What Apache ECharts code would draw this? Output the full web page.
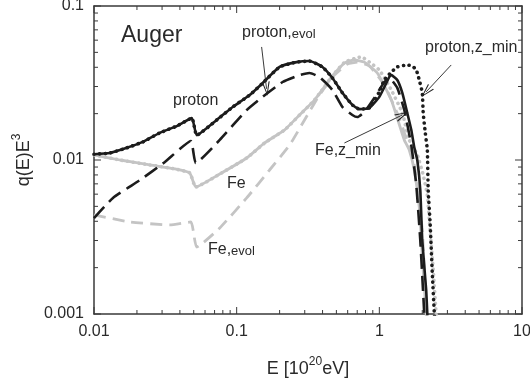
<!DOCTYPE html>
<html>
<head>
<meta charset="utf-8">
<script src="https://cdn.jsdelivr.net/npm/echarts@6/dist/echarts.min.js"></script>
<style>
  html, body { margin: 0; padding: 0; background: #fff; }
  #chart { width: 530px; height: 385px; }
</style>
</head>
<body>
<div id="chart"></div>
<script>
// Energy (10^20 eV) and q(E)E^3 for each model curve
const protonE = [0.01, 0.0129, 0.0170, 0.0220, 0.0289, 0.0380, 0.0485, 0.0525, 0.0725, 0.0938, 0.1233, 0.150, 0.200, 0.263, 0.324, 0.399, 0.469, 0.551, 0.647, 0.725, 0.851, 1.00, 1.175, 1.213, 1.336, 1.449, 1.570, 1.674, 1.757, 1.845, 1.936, 2.00, 2.13, 2.17, 2.22];
const protonQ = [0.0109, 0.0111, 0.0120, 0.0131, 0.0150, 0.0166, 0.0187, 0.0145, 0.0182, 0.0221, 0.0264, 0.0312, 0.0402, 0.0432, 0.0439, 0.0402, 0.0341, 0.0273, 0.0228, 0.0214, 0.0218, 0.0257, 0.0346, 0.0356, 0.0331, 0.0273, 0.0202, 0.0157, 0.0121, 0.0100, 0.0064, 0.0030, 0.00143, 0.0010, 0.0007];

const protonZminE = [0.01, 0.0129, 0.0170, 0.0220, 0.0289, 0.0380, 0.0485, 0.0525, 0.0725, 0.0938, 0.1233, 0.150, 0.200, 0.263, 0.324, 0.399, 0.469, 0.551, 0.647, 0.725, 0.851, 1.00, 1.084, 1.213, 1.336, 1.57, 1.70, 1.815, 1.905, 2.00, 2.03, 2.10, 2.17, 2.20, 2.27, 2.35, 2.43, 2.48];
const protonZminQ = [0.0109, 0.0111, 0.0120, 0.0131, 0.0150, 0.0166, 0.0187, 0.0145, 0.0182, 0.0221, 0.0264, 0.0312, 0.0402, 0.0432, 0.0439, 0.0402, 0.0341, 0.0273, 0.0228, 0.0214, 0.0218, 0.0277, 0.0331, 0.0372, 0.0402, 0.0414, 0.0408, 0.0384, 0.0331, 0.0273, 0.0202, 0.0150, 0.0116, 0.0064, 0.0039, 0.00185, 0.0010, 0.0007];

const protonEvolE = [0.01, 0.01358, 0.0210, 0.0314, 0.0477, 0.0517, 0.0761, 0.1175, 0.152, 0.210, 0.276, 0.324, 0.380, 0.469, 0.551, 0.647, 0.702, 0.785, 0.922, 1.084, 1.175, 1.336, 1.496, 1.674, 1.815, 1.936, 2.065, 2.10];
const protonEvolQ = [0.0042, 0.00567, 0.00741, 0.00971, 0.0133, 0.00957, 0.0135, 0.0211, 0.0257, 0.0321, 0.0356, 0.0367, 0.0346, 0.0285, 0.0221, 0.0196, 0.0190, 0.0205, 0.0253, 0.0321, 0.0341, 0.0294, 0.0211, 0.0125, 0.00689, 0.00303, 0.0010, 0.0007];

const feE = [0.01, 0.0152, 0.0246, 0.0368, 0.0469, 0.0517, 0.0761, 0.1175, 0.157, 0.217, 0.276, 0.351, 0.410, 0.462, 0.569, 0.668, 0.785, 0.968, 1.213, 1.496, 1.621, 1.757, 1.905, 2.00, 2.13, 2.17];
const feQ = [0.0108, 0.0100, 0.00929, 0.00875, 0.00824, 0.00668, 0.00811, 0.0103, 0.0129, 0.0157, 0.0196, 0.0245, 0.0296, 0.0346, 0.0426, 0.0446, 0.0432, 0.0367, 0.0245, 0.0135, 0.0116, 0.00861, 0.00495, 0.00235, 0.0010, 0.0007];

const feZminE = [0.01, 0.0152, 0.0246, 0.0368, 0.0469, 0.0517, 0.0761, 0.1175, 0.157, 0.217, 0.276, 0.351, 0.410, 0.462, 0.569, 0.668, 0.748, 0.851, 1.00, 1.213, 1.449, 1.621, 1.845, 2.03, 2.17, 2.27, 2.39, 2.50, 2.55];
const feZminQ = [0.0108, 0.0100, 0.00929, 0.00875, 0.00824, 0.00668, 0.00811, 0.0103, 0.0129, 0.0157, 0.0196, 0.0245, 0.0296, 0.0346, 0.0430, 0.0455, 0.0467, 0.0432, 0.0384, 0.0285, 0.0202, 0.0135, 0.0108, 0.0080, 0.0059, 0.0035, 0.0019, 0.0010, 0.0007];

const feEvolE = [0.01, 0.01786, 0.034, 0.0477, 0.0525, 0.0761, 0.1175, 0.170, 0.235, 0.299, 0.380, 0.484, 0.597, 0.702, 0.851, 1.084, 1.380, 1.757, 2.00, 2.13, 2.17];
const feEvolQ = [0.0044, 0.00396, 0.00379, 0.00396, 0.00272, 0.00362, 0.00567, 0.00861, 0.0125, 0.0182, 0.0264, 0.0356, 0.0420, 0.0432, 0.0408, 0.0307, 0.0187, 0.00929, 0.00351, 0.0010, 0.0007];

// Axis tick labels
const xTickValues = [0.01, 0.1, 1, 10];
const xTickLabels = ['0.01', '0.1', '1', '10'];
const yTickValues = [0.001, 0.01, 0.1];
const yTickLabels = ['0.001', '0.01', '0.1'];
const mantissas = [1, 2, 3, 4, 5, 6, 7, 8, 9];

// Annotation arrows: [fromE, fromQ, toE, toQ]
const arrowProtonEvol = [0.1496, 0.0542, 0.162, 0.0290];
const arrowProtonZmin = [3.19, 0.0414, 2.13, 0.0277];
const arrowFeZmin = [0.569, 0.0129, 1.449, 0.0196];

const X_MIN = 0.01, X_MAX = 10, Y_MIN = 0.001, Y_MAX = 0.1;

const BLACK = '#1c1c1c';
const GRAY = '#c4c4c4';
const AXIS = '#3a3a3a';
const TEXT = '#2a2a2a';
const FONT = 'Liberation Sans, Arial, sans-serif';

function pairs(xs, ys) { return xs.map((x, i) => [x, ys[i]]); }

// every 1..9 multiple of each decade; the flag marks decade ticks
function logTicks(decades) {
  const out = [];
  for (let i = 0; i < decades.length - 1; i++) {
    mantissas.forEach(m => out.push([+(decades[i] * m).toPrecision(3), m === 1 ? 1 : 0]));
  }
  out.push([decades[decades.length - 1], 1]);
  return out;
}

function labelFor(values, labels) {
  return function (v) {
    for (let i = 0; i < values.length; i++) {
      if (Math.abs(Math.log10(v) - Math.log10(values[i])) < 1e-6) return labels[i];
    }
    return '';
  };
}

function arrowLine(a) {
  return [{ coord: [a[0], a[1]], symbol: 'none' }, { coord: [a[2], a[3]] }];
}

const chevron = 'path://M0,14 L4,0 L8,14 L6.8,14 L4,3.2 L1.2,14 Z';

const lineBase = { type: 'line', showSymbol: false, symbol: 'none', smooth: 0.15, silent: true };

function logAxis(extra) {
  return Object.assign({
    type: 'log',
    axisLine: { show: true, lineStyle: { color: AXIS, width: 1.5 } },
    axisTick: { show: false },
    minorTick: { show: false },
    splitLine: { show: false }
  }, extra);
}

const titleRich = {
  t: { fontSize: 18, color: TEXT, fontFamily: FONT, verticalAlign: 'bottom', lineHeight: 22 },
  s: { fontSize: 12, color: TEXT, fontFamily: FONT, verticalAlign: 'top', lineHeight: 22, padding: [0, 0, 9, 0] }
};

// inward tick marks on all four sides of the frame, placed through the axis scales
function tickSeries(ticks, horizontal) {
  return {
    type: 'custom', silent: true, clip: false, z: 5,
    data: ticks,
    renderItem: function (params, api) {
      const v = api.value(0);
      const len = api.value(1) ? 7 : 4;
      const style = { stroke: AXIS, lineWidth: 1 };
      if (horizontal) {
        const b = api.coord([v, Y_MIN]);
        const t = api.coord([v, Y_MAX]);
        return { type: 'group', children: [
          { type: 'line', shape: { x1: b[0], y1: b[1], x2: b[0], y2: b[1] - len }, style: style },
          { type: 'line', shape: { x1: t[0], y1: t[1], x2: t[0], y2: t[1] + len }, style: style }
        ] };
      }
      const l = api.coord([X_MIN, v]);
      const r = api.coord([X_MAX, v]);
      return { type: 'group', children: [
        { type: 'line', shape: { x1: l[0], y1: l[1], x2: l[0] + len, y2: l[1] }, style: style },
        { type: 'line', shape: { x1: r[0], y1: r[1], x2: r[0] - len, y2: r[1] }, style: style }
      ] };
    }
  };
}

const chart = echarts.init(document.getElementById('chart'));

chart.setOption({
  animation: false,
  grid: { left: 94, right: 8, top: 6, bottom: 71, containLabel: false, outerBoundsMode: 'none' },
  xAxis: [
    logAxis({
      position: 'bottom', min: X_MIN, max: X_MAX,
      axisLabel: { show: true, color: TEXT, fontSize: 16, fontFamily: FONT, margin: 10, formatter: labelFor(xTickValues, xTickLabels) },
      name: '{t|E [10}{s|20}{t|eV]}',
      nameLocation: 'middle', nameGap: 42,
      nameTextStyle: { rich: titleRich }
    }),
    logAxis({ position: 'top', min: X_MIN, max: X_MAX, axisLabel: { show: false } })
  ],
  yAxis: [
    logAxis({
      position: 'left', min: Y_MIN, max: Y_MAX,
      axisLabel: { show: true, color: TEXT, fontSize: 16, fontFamily: FONT, margin: 10, formatter: labelFor(yTickValues, yTickLabels) },
      name: '{t|q(E)E}{s|3}',
      nameLocation: 'middle', nameGap: 58, nameRotate: 90,
      nameTextStyle: { rich: titleRich }
    }),
    logAxis({ position: 'right', min: Y_MIN, max: Y_MAX, axisLabel: { show: false } })
  ],
  series: [
    tickSeries(logTicks(xTickValues), true),
    tickSeries(logTicks(yTickValues), false),
    Object.assign({}, lineBase, {
      name: 'Fe,evol', data: pairs(feEvolE, feEvolQ),
      lineStyle: { color: GRAY, width: 2.8, type: [12, 7] }
    }),
    Object.assign({}, lineBase, {
      name: 'Fe', data: pairs(feE, feQ),
      lineStyle: { color: GRAY, width: 2.8 }
    }),
    Object.assign({}, lineBase, {
      name: 'Fe,z_min', data: pairs(feZminE, feZminQ),
      lineStyle: { color: GRAY, width: 3.6, type: [0.1, 5.6], cap: 'round' }
    }),
    Object.assign({}, lineBase, {
      name: 'proton,evol', data: pairs(protonEvolE, protonEvolQ),
      lineStyle: { color: BLACK, width: 2.6, type: [15, 7] }
    }),
    Object.assign({}, lineBase, {
      name: 'proton', data: pairs(protonE, protonQ),
      lineStyle: { color: BLACK, width: 2.6 }
    }),
    Object.assign({}, lineBase, {
      name: 'proton,z_min', data: pairs(protonZminE, protonZminQ),
      lineStyle: { color: BLACK, width: 3.6, type: [0.1, 5.6], cap: 'round' },
      markLine: {
        silent: true, animation: false,
        symbol: ['none', chevron], symbolSize: [8, 14],
        label: { show: false },
        lineStyle: { color: '#222', width: 0.9, type: 'solid' },
        data: [arrowLine(arrowProtonEvol), arrowLine(arrowProtonZmin), arrowLine(arrowFeZmin)]
      }
    })
  ],
  graphic: [
    { type: 'text', left: 121, top: 24, silent: true, style: { text: 'Auger', font: '23px ' + FONT, fill: TEXT } },
    { type: 'text', left: 173, top: 93, silent: true, style: { text: 'proton', font: '16px ' + FONT, fill: TEXT } },
    { type: 'text', left: 242, top: 25, silent: true, style: { text: '{a|proton,}{b|evol}', rich: { a: { font: '16px ' + FONT, fill: TEXT }, b: { font: '13px ' + FONT, fill: TEXT, padding: [3, 0, 0, 0] } } } },
    { type: 'text', left: 425, top: 40, silent: true, style: { text: 'proton,z_min', font: '16px ' + FONT, fill: TEXT } },
    { type: 'text', left: 227, top: 176, silent: true, style: { text: 'Fe', font: '16px ' + FONT, fill: TEXT } },
    { type: 'text', left: 208, top: 242, silent: true, style: { text: '{a|Fe,}{b|evol}', rich: { a: { font: '16px ' + FONT, fill: TEXT }, b: { font: '13px ' + FONT, fill: TEXT, padding: [3, 0, 0, 0] } } } },
    { type: 'text', left: 315, top: 143, silent: true, style: { text: 'Fe,z_min', font: '16px ' + FONT, fill: TEXT } }
  ]
});
</script>
</body>
</html>
